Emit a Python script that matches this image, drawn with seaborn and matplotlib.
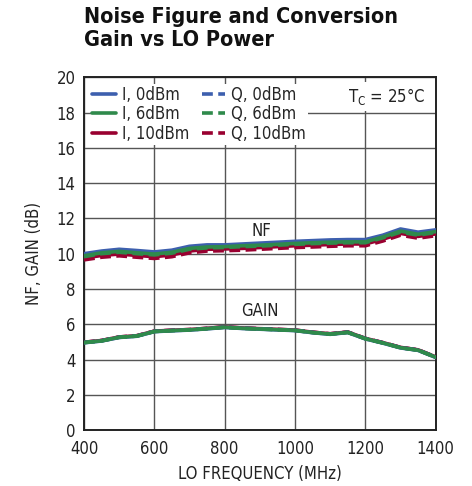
import numpy as np
import pandas as pd
import matplotlib
matplotlib.use('Agg')
import matplotlib.pyplot as plt
import seaborn as sns
from matplotlib import font_manager

# LO frequency points (MHz)
freq = [400, 450, 500, 550, 600, 650, 700, 750, 800, 850, 900, 950, 1000,
        1050, 1100, 1150, 1200, 1250, 1300, 1350, 1400]

# noise figure (dB)
nf_i_0 = [10.0, 10.15, 10.25, 10.18, 10.1, 10.2, 10.42, 10.5, 10.5, 10.55, 10.6, 10.65,
          10.7, 10.74, 10.78, 10.8, 10.8, 11.05, 11.4, 11.22, 11.35]
nf_q_0 = [9.95, 10.1, 10.2, 10.12, 10.05, 10.15, 10.37, 10.45, 10.45, 10.5, 10.55, 10.6,
          10.65, 10.69, 10.73, 10.75, 10.75, 11.0, 11.33, 11.15, 11.28]
nf_i_6 = [9.88, 10.05, 10.13, 10.05, 9.98, 10.08, 10.3, 10.38, 10.4, 10.45, 10.48, 10.53,
          10.58, 10.62, 10.65, 10.67, 10.67, 10.95, 11.28, 11.1, 11.25]
nf_q_6 = [9.83, 10.0, 10.08, 10.0, 9.93, 10.03, 10.25, 10.33, 10.35, 10.4, 10.43, 10.48,
          10.53, 10.57, 10.6, 10.62, 10.62, 10.9, 11.22, 11.05, 11.2]
nf_i_10 = [9.75, 9.9, 9.98, 9.9, 9.83, 9.93, 10.15, 10.25, 10.27, 10.3, 10.35, 10.4,
           10.45, 10.48, 10.52, 10.55, 10.55, 10.82, 11.15, 10.98, 11.12]
nf_q_10 = [9.65, 9.8, 9.88, 9.8, 9.73, 9.83, 10.05, 10.15, 10.17, 10.2, 10.25, 10.3,
           10.35, 10.38, 10.42, 10.45, 10.45, 10.72, 11.05, 10.88, 11.02]

# conversion gain (dB)
gain_i_0 = [4.95, 5.05, 5.25, 5.32, 5.58, 5.63, 5.67, 5.74, 5.82, 5.76, 5.72, 5.68,
            5.64, 5.52, 5.43, 5.53, 5.17, 4.93, 4.66, 4.52, 4.12]
gain_q_0 = [4.97, 5.07, 5.27, 5.34, 5.6, 5.65, 5.69, 5.76, 5.84, 5.78, 5.74, 5.7,
            5.66, 5.54, 5.45, 5.55, 5.19, 4.95, 4.68, 4.54, 4.14]
gain_i_6 = [4.96, 5.06, 5.26, 5.33, 5.59, 5.64, 5.68, 5.75, 5.83, 5.77, 5.73, 5.69,
            5.65, 5.53, 5.44, 5.54, 5.18, 4.94, 4.67, 4.53, 4.13]
gain_q_6 = gain_i_6
gain_i_10 = [4.98, 5.08, 5.28, 5.35, 5.61, 5.66, 5.7, 5.77, 5.85, 5.79, 5.75, 5.71,
             5.67, 5.55, 5.46, 5.56, 5.2, 4.96, 4.69, 4.55, 4.15]
gain_q_10 = gain_i_10

# legend fills column by column: I first, then Q
series_labels = ['I, 0dBm', 'I, 6dBm', 'I, 10dBm', 'Q, 0dBm', 'Q, 6dBm', 'Q, 10dBm']
x_ticks = [400, 600, 800, 1000, 1200, 1400]
y_ticks = [0, 2, 4, 6, 8, 10, 12, 14, 16, 18, 20]

BLUE = '#3d5fae'
GREEN = '#2f8a4b'
RED = '#990030'

sns.set_theme(style='white')

# pick a condensed face if one is around, the reference uses a narrow font
cond = [f for f in font_manager.fontManager.ttflist
        if ('Condensed' in f.fname or 'Narrow' in f.fname) and 'Oblique' not in f.fname
        and 'Italic' not in f.fname]
if cond:
    plt.rcParams['font.family'] = [cond[0].name, 'DejaVu Sans']
    plt.rcParams['font.stretch'] = 'condensed'
else:
    plt.rcParams['font.family'] = ['Liberation Sans', 'DejaVu Sans']

nf = {'I, 0dBm': nf_i_0, 'Q, 0dBm': nf_q_0, 'I, 6dBm': nf_i_6,
      'Q, 6dBm': nf_q_6, 'I, 10dBm': nf_i_10, 'Q, 10dBm': nf_q_10}
gain = {'I, 0dBm': gain_i_0, 'Q, 0dBm': gain_q_0, 'I, 6dBm': gain_i_6,
        'Q, 6dBm': gain_q_6, 'I, 10dBm': gain_i_10, 'Q, 10dBm': gain_q_10}

rows = []
for lab in series_labels:
    for f, v in zip(freq, nf[lab]):
        rows.append({'freq': f, 'value': v, 'series': lab, 'curve': 'NF'})
    for f, v in zip(freq, gain[lab]):
        rows.append({'freq': f, 'value': v, 'series': lab, 'curve': 'GAIN'})
df = pd.DataFrame(rows)

colors = {'I, 0dBm': BLUE, 'Q, 0dBm': BLUE, 'I, 6dBm': GREEN,
          'Q, 6dBm': GREEN, 'I, 10dBm': RED, 'Q, 10dBm': RED}

fig = plt.figure(figsize=(4.72, 4.86), dpi=100)
ax = fig.add_axes([0.178, 0.115, 0.745, 0.726])

# draw order: red under, blue, then green on top for gain
order = ['Q, 10dBm', 'I, 10dBm', 'Q, 0dBm', 'I, 0dBm', 'Q, 6dBm', 'I, 6dBm']
for lab in order:
    for curve in ['NF', 'GAIN']:
        sub = df[(df.series == lab) & (df.curve == curve)]
        sns.lineplot(data=sub, x='freq', y='value', ax=ax, color=colors[lab],
                     linewidth=2.6, legend=False, zorder=3)
        if lab.startswith('Q'):
            ax.lines[-1].set_dashes((3, 1.5))

ax.set_xlim(400, 1400)
ax.set_ylim(0, 20)
ax.set_xticks(x_ticks)
ax.set_yticks(y_ticks)
ax.tick_params(labelsize=12, colors='#222222', length=0)
ax.tick_params(axis='x', pad=7)
ax.tick_params(axis='y', pad=6)
ax.grid(True, color='#555555', linewidth=1.0)
ax.set_axisbelow(True)
for s in ax.spines.values():
    s.set_color('#222222')
    s.set_linewidth(1.4)

ax.set_xlabel('LO FREQUENCY (MHz)', fontsize=12, color='#222222', labelpad=5)
ax.set_ylabel('NF, GAIN (dB)', fontsize=12, color='#222222', labelpad=10)

# legend
handles = []
for lab in series_labels:
    ls = (0, (3, 1.5)) if lab.startswith('Q') else '-'
    handles.append(plt.Line2D([], [], color=colors[lab], linewidth=2.6, linestyle=ls))
leg = ax.legend(handles, series_labels, ncol=2, loc='upper left', fontsize=12,
                frameon=True, framealpha=1, edgecolor='white', borderpad=0.1,
                handlelength=1.4, handletextpad=0.35, columnspacing=0.8,
                labelspacing=0.1, borderaxespad=0.4, bbox_to_anchor=(0.0, 1.0))
leg.get_frame().set_linewidth(0)
leg.set_zorder(5)

ax.text(0.97, 0.975, 'T$_\\mathregular{C}$ = 25°C', transform=ax.transAxes, ha='right',
        va='top', fontsize=12, color='#222222', zorder=6,
        bbox=dict(facecolor='white', edgecolor='none', pad=3))

ax.text(905, 11.3, 'NF', fontsize=12, ha='center', va='center', color='#222222')
ax.text(900, 6.75, 'GAIN', fontsize=12, ha='center', va='center', color='#222222')

fig.text(0.178, 0.985, 'Noise Figure and Conversion\nGain vs LO Power', fontsize=15.5,
         fontweight='bold', ha='left', va='top', color='#111111', linespacing=1.15)

fig.savefig('out.png', dpi=100)
